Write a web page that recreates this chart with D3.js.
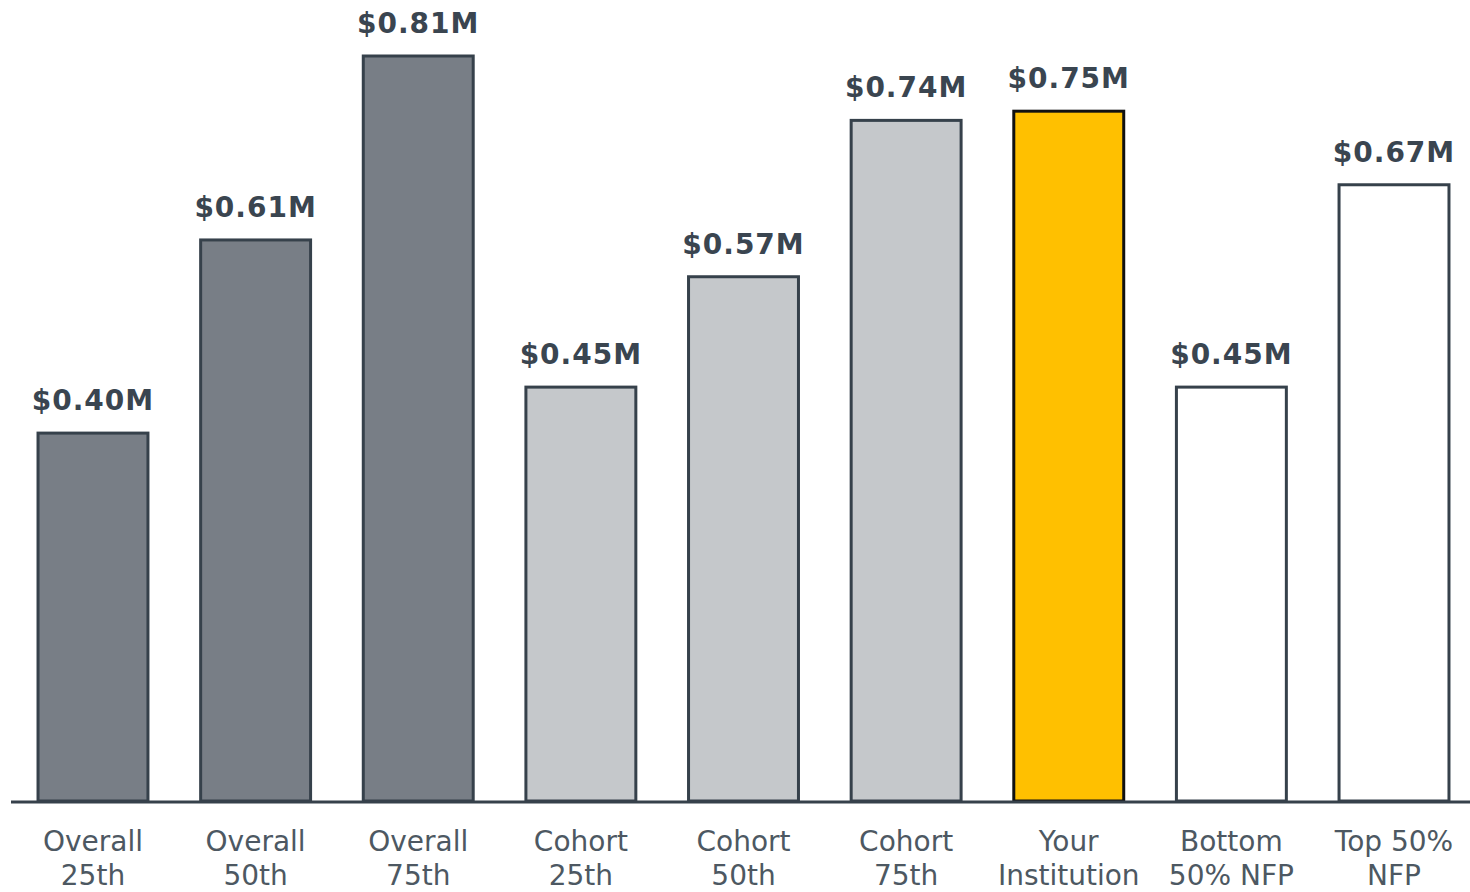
<!DOCTYPE html>
<html><head><meta charset="utf-8">
<script src="https://cdn.jsdelivr.net/npm/d3@7/dist/d3.min.js"></script>
<style>html,body{margin:0;padding:0;background:#fff;}svg{display:block;}</style>
</head><body>
<svg id="chart" width="1470" height="892"></svg>
<script>
const categories = [["Overall","25th"],["Overall","50th"],["Overall","75th"],["Cohort","25th"],["Cohort","50th"],["Cohort","75th"],["Your","Institution"],["Bottom","50% NFP"],["Top 50%","NFP"]];
const values = [0.40, 0.61, 0.81, 0.45, 0.57, 0.74, 0.75, 0.45, 0.67];
const valueLabels = ["$0.40M","$0.61M","$0.81M","$0.45M","$0.57M","$0.74M","$0.75M","$0.45M","$0.67M"];
const fills = ["#787e86","#787e86","#787e86","#c5c8cb","#c5c8cb","#c5c8cb","#ffc000","#ffffff","#ffffff"];
const strokes = ["#36414b","#36414b","#36414b","#36414b","#36414b","#36414b","#111111","#36414b","#36414b"];

const svg = d3.select("#chart");
const idx = d3.range(values.length);
const x = d3.scaleBand().domain(idx).range([12, 1475]).paddingInner(0.324).paddingOuter(0.16);
const y = d3.scaleLinear().domain([0, 0.81]).range([801, 56]);

svg.append("g").selectAll("rect").data(idx).join("rect")
  .attr("x", i => x(i)).attr("width", x.bandwidth())
  .attr("y", i => y(values[i])).attr("height", i => y(0) - y(values[i]))
  .attr("fill", i => fills[i]).attr("stroke", i => strokes[i]).attr("stroke-width", 3);

svg.append("line").attr("x1", 11).attr("x2", 1470).attr("y1", y(0)+1).attr("y2", y(0)+1)
  .attr("stroke", "#36414b").attr("stroke-width", 3);

svg.append("g").selectAll("text").data(idx).join("text")
  .attr("x", i => x(i) + x.bandwidth()/2).attr("y", i => y(values[i]) - 23)
  .attr("text-anchor", "middle").attr("font-family", "DejaVu Sans, Verdana, sans-serif")
  .attr("font-weight", "bold").attr("font-size", 28).attr("letter-spacing", 1).attr("fill", "#3a4550")
  .text(i => valueLabels[i]);

const lab = svg.append("g").selectAll("text").data(idx).join("text")
  .attr("text-anchor", "middle").attr("font-family", "DejaVu Sans, Verdana, sans-serif")
  .attr("font-size", 28).attr("fill", "#4d5862");
lab.each(function(i){
  const t = d3.select(this);
  categories[i].forEach((s, k) => {
    t.append("tspan").attr("x", x(i) + x.bandwidth()/2).attr("y", 851 + k*34).text(s);
  });
});
</script>
</body></html>
